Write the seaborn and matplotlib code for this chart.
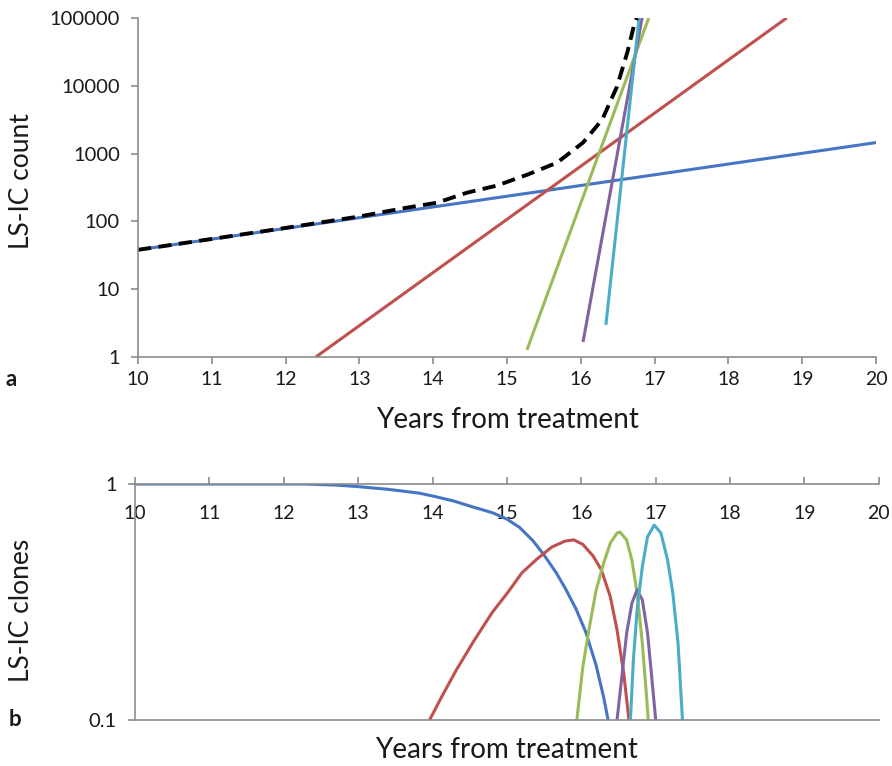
import numpy as np
import pandas as pd
import matplotlib
matplotlib.use("Agg")
import matplotlib.pyplot as plt
import seaborn as sns

# ---- panel a : LS-IC count (log) ----
years_blue_a = [10, 20]
count_blue = [38, 1450]
years_red_a = [12.41, 18.79]
count_red = [1, 100000]
years_green_a = [15.27, 16.92]
count_green = [1.27, 100000]
years_purple_a = [16.03, 16.83]
count_purple = [1.66, 100000]
years_cyan_a = [16.34, 16.79]
count_cyan = [2.97, 100000]
years_total = [10, 11, 12, 13, 13.64, 14.05, 14.46, 14.86, 15.28, 15.68,
               16.03, 16.29, 16.49, 16.63, 16.73, 16.76]
count_total = [38, 55, 80, 118, 159, 188, 265, 336, 490, 735,
               1450, 3170, 9700, 31000, 85000, 100000]

# ---- panel b : LS-IC clones (log) ----
years_blue_b = [10, 12.3, 12.7, 13, 13.4, 13.82, 14, 14.27, 14.54, 14.81,
                15.0, 15.17, 15.35, 15.5, 15.66, 15.79, 15.93, 16.06,
                16.2, 16.3, 16.36]
clones_blue = [1, 1, 0.99, 0.975, 0.95, 0.915, 0.89, 0.85, 0.80, 0.755,
               0.71, 0.655, 0.575, 0.5, 0.422, 0.359, 0.295, 0.236,
               0.17, 0.125, 0.1]
years_red_b = [13.96, 14.12, 14.32, 14.55, 14.8, 15.02, 15.2, 15.4, 15.6,
               15.78, 15.9, 16.02, 16.16, 16.27, 16.39, 16.48, 16.57, 16.64]
clones_red = [0.1, 0.125, 0.163, 0.215, 0.285, 0.35, 0.42, 0.48, 0.54,
              0.573, 0.58, 0.555, 0.495, 0.432, 0.333, 0.241, 0.158, 0.1]
years_green_b = [15.94, 16.02, 16.11, 16.2, 16.3, 16.39, 16.48, 16.52,
                 16.61, 16.68, 16.75, 16.82, 16.88, 16.9]
clones_green = [0.1, 0.168, 0.249, 0.356, 0.462, 0.562, 0.62, 0.626,
                0.579, 0.476, 0.345, 0.212, 0.122, 0.1]
years_purple_b = [16.48, 16.55, 16.61, 16.68, 16.75, 16.82, 16.89, 16.95,
                  17.0]
clones_purple = [0.1, 0.158, 0.234, 0.313, 0.356, 0.323, 0.234, 0.148, 0.1]
years_cyan_b = [16.66, 16.70, 16.75, 16.82, 16.89, 16.98, 17.07, 17.16,
                17.23, 17.30, 17.36]
clones_cyan = [0.1, 0.18, 0.293, 0.446, 0.598, 0.67, 0.62, 0.476, 0.345,
               0.212, 0.1]

x_ticks = list(range(10, 21))
count_ticks = [1, 10, 100, 1000, 10000, 100000]
clone_ticks = [0.1, 1]

colors = {"blue": "#4675c4", "red": "#c0504d", "green": "#9bbb59",
          "purple": "#8064a2", "cyan": "#4bacc6"}

sns.set_style("white")
plt.rcParams["font.family"] = ["Lato", "DejaVu Sans"]
grey = "#8c8c8c"
txt = "#1a1a1a"

fig = plt.figure(figsize=(8.92, 7.66), dpi=100)
ax1 = fig.add_axes([0.1547, 0.534, 0.8274, 0.4426])
ax2 = fig.add_axes([0.1513, 0.06, 0.834, 0.3081])

lw = 2.2

# panel a
series_a = [
    (years_blue_a, count_blue, "blue"),
    (years_red_a, count_red, "red"),
    (years_green_a, count_green, "green"),
    (years_purple_a, count_purple, "purple"),
    (years_cyan_a, count_cyan, "cyan"),
]
for xs, ys, c in series_a:
    sns.lineplot(x=xs, y=ys, ax=ax1, color=colors[c], lw=lw, estimator=None)
sns.lineplot(x=years_total, y=count_total, ax=ax1, color="black", lw=2.8,
             estimator=None, linestyle=(0, (3.4, 1.9)))

ax1.set_yscale("log")
ax1.set_xlim(10, 20)
ax1.set_ylim(1, 100000)
ax1.set_xticks(x_ticks)
ax1.set_yticks(count_ticks)
ax1.set_yticklabels([str(v) for v in count_ticks])
ax1.yaxis.set_minor_locator(matplotlib.ticker.NullLocator())
ax1.set_xlabel("Years from treatment", fontsize=20, color=txt, labelpad=14)
ax1.set_ylabel("LS-IC count", fontsize=19, color=txt)
ax1.yaxis.set_label_coords(-0.141, 0.52)
for s in ["top", "right"]:
    ax1.spines[s].set_visible(False)
for s in ["left", "bottom"]:
    ax1.spines[s].set_color(grey)
    ax1.spines[s].set_linewidth(1.2)
ax1.tick_params(axis="x", direction="out", length=5, width=1.2,
                color=grey, labelsize=14, labelcolor=txt, bottom=True, pad=5)
ax1.tick_params(axis="y", direction="out", length=5, width=1.2,
                color=grey, labelsize=14.5, labelcolor=txt, left=True, pad=8)

# panel b
series_b = [
    (years_blue_b, clones_blue, "blue"),
    (years_red_b, clones_red, "red"),
    (years_green_b, clones_green, "green"),
    (years_purple_b, clones_purple, "purple"),
    (years_cyan_b, clones_cyan, "cyan"),
]
for xs, ys, c in series_b:
    sns.lineplot(x=xs, y=ys, ax=ax2, color=colors[c], lw=lw, estimator=None)

for ax in (ax1, ax2):
    for ln in ax.get_lines():
        ln.set_solid_joinstyle("round")
        ln.set_solid_capstyle("butt")

ax2.set_yscale("log")
ax2.set_xlim(10, 20)
ax2.set_ylim(0.1, 1)
ax2.set_xticks(x_ticks)
ax2.set_yticks(clone_ticks)
ax2.set_yticklabels(["0.1", "1"])
ax2.yaxis.set_minor_locator(matplotlib.ticker.NullLocator())
ax2.set_xlabel("Years from treatment", fontsize=20, color=txt, labelpad=12)
ax2.set_ylabel("LS-IC clones", fontsize=19, color=txt)
ax2.yaxis.set_label_coords(-0.136, 0.466)
ax2.spines["right"].set_visible(False)
for s in ["left", "bottom", "top"]:
    ax2.spines[s].set_color(grey)
    ax2.spines[s].set_linewidth(1.2)
ax2.tick_params(axis="x", top=True, bottom=False, labeltop=True,
                labelbottom=False, direction="out", length=5, width=1.2,
                color=grey, labelsize=14, labelcolor=txt, pad=-20)
ax2.tick_params(axis="y", left=True, direction="out", length=5, width=1.2,
                color=grey, labelsize=14.5, labelcolor=txt, pad=8)
for lab in ax2.get_xticklabels():
    lab.set_verticalalignment("top")

fig.text(6 / 892, 1 - 380 / 766, "a", fontsize=16, fontweight="bold",
         va="center", ha="left", color=txt)
fig.text(9 / 892, 1 - 719 / 766, "b", fontsize=16, fontweight="bold",
         va="center", ha="left", color=txt)

fig.savefig("out.png", dpi=100)
